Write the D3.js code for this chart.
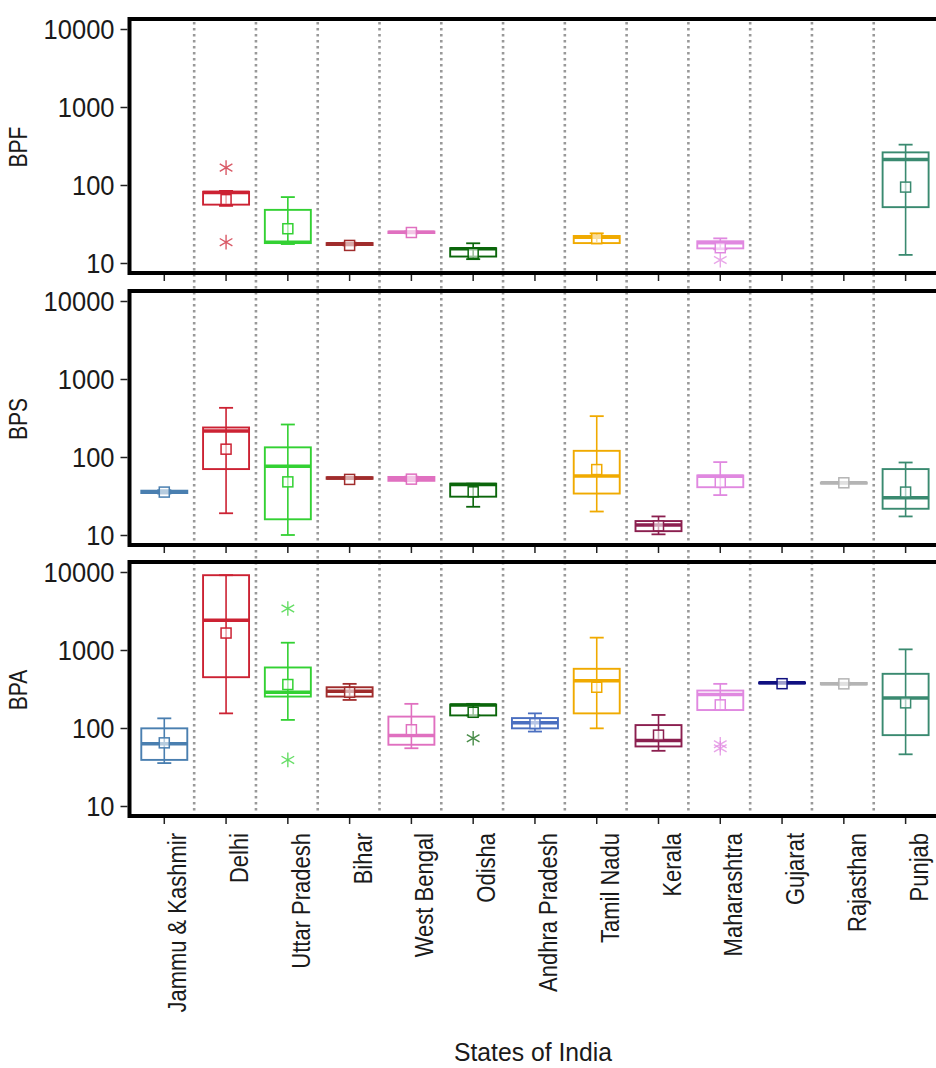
<!DOCTYPE html>
<html><head><meta charset="utf-8">
<script src="https://cdn.jsdelivr.net/npm/d3@7"></script>
<style>
body{margin:0;background:#fff;}
text{font-family:"Liberation Sans",Arial,sans-serif;fill:#1a1a1a;}
</style></head><body>
<svg id="chart" width="936" height="1068"></svg>
<script>
const states = ["Jammu & Kashmir","Delhi","Uttar Pradesh","Bihar","West Bengal","Odisha","Andhra Pradesh","Tamil Nadu","Kerala","Maharashtra","Gujarat","Rajasthan","Punjab"];
const stateColors = ["#4a7fb0","#cc2233","#33d133","#a02c2c","#e070c0","#0b660b","#4a6fc0","#f0aa00","#8b1f4f","#e088e0","#101080","#b4b4b4","#3a8a70"];
const panelNames = ["BPF","BPS","BPA"];
const yTicks = [10,100,1000,10000];

// BPF
const bpfLow  = [null,54,17.5,16.8,24,11.2,null,18,null,15,null,null,12.7];
const bpfQ1   = [null,56,18,17,24.2,12.1,null,18,null,15.4,null,null,52];
const bpfMed  = [null,80,18.5,17.6,24.8,15.2,null,21.4,null,18.2,null,null,213];
const bpfQ3   = [null,82,48,18,25.3,15.5,null,22.2,null,19,null,null,262];
const bpfHigh = [null,84,70,18.2,25.5,17.9,null,24,null,20.7,null,null,329];
const bpfMean = [null,65,27.5,16.8,24.6,13.3,null,20.5,null,15.7,null,null,94];
const bpfOut  = [[],[167,18.5],[],[],[],[],[],[],[],[10.9],[],[],[]];

// BPS
const bpsLow  = [34,19,10,52,49,23,null,20,10.2,32.5,null,46,17.3];
const bpsQ1   = [34.5,70,15.9,52.5,49.5,31,null,34,11.2,41,null,46.3,21.7];
const bpsMed  = [35.8,216,76,53.7,52.6,44.5,null,57,13.4,56.5,null,46.7,30];
const bpsQ3   = [37,239,133,55,55.5,45.5,null,120,15.1,58,null,47,70];
const bpsHigh = [37.5,427,261,55,56,45.5,null,334,17.3,86,null,47.3,85];
const bpsMean = [35.5,126,48,51.6,52,35.8,null,69,13.1,47.3,null,46.7,35.5];
const bpsOut  = [[],[],[],[],[],[],[],[],[],[],[],[],[]];

// BPA
const bpaLow  = [35.5,154,127,229,55,145,90,99,51,170,375,360,46];
const bpaQ1   = [39,448,253,253,61,145,99,154,58,170,376,362,81];
const bpaMed  = [63,2400,287,296,80,197,117,403,69,268,380,368,243];
const bpaQ3   = [99,9100,597,333,140,200,134,574,109,302,384,378,495];
const bpaHigh = [133,9100,1240,368,204,204,154,1440,147,368,385,380,1019];
const bpaMean = [64.5,1650,361,287,95,159,114,333,81,198,370,368,210];
const bpaOut  = [[],[],[3400,39],[],[],[74],[],[],[],[62,55],[],[],[]];

const panels = [
  {name:"BPF", low:bpfLow, q1:bpfQ1, med:bpfMed, q3:bpfQ3, high:bpfHigh, mean:bpfMean, out:bpfOut, top:19},
  {name:"BPS", low:bpsLow, q1:bpsQ1, med:bpsMed, q3:bpsQ3, high:bpsHigh, mean:bpsMean, out:bpsOut, top:291},
  {name:"BPA", low:bpaLow, q1:bpaQ1, med:bpaMed, q3:bpaQ3, high:bpaHigh, mean:bpaMean, out:bpaOut, top:562}
];

const svg = d3.select("#chart");
const panelH = 254;
const frameLeft = 129.5;
const x = d3.scaleBand().domain(states).range([132.4, 935.5]).paddingInner(0).paddingOuter(0);
const bw = x.bandwidth();
const boxW = 46;
const color = d3.scaleOrdinal().domain(states).range(stateColors);

// dotted separators
svg.append("g").selectAll("line").data(states.slice(1)).join("line")
  .attr("x1", d => x(d)).attr("x2", d => x(d))
  .attr("y1", 22).attr("y2", 815)
  .attr("stroke", "#999").attr("stroke-width", 2.6).attr("stroke-dasharray", "2.6,3.4");

panels.forEach((p, pi) => {
  const y = d3.scaleLog().domain([10, 10000]).range([p.top + 244, p.top + 10]);
  const g = svg.append("g");

  states.forEach((s, i) => {
    if (p.low[i] == null) return;
    const cx = x(s) + bw / 2 + 1;
    const c = color(s);
    const sg = g.append("g");
    sg.append("line").attr("x1", cx).attr("x2", cx)
      .attr("y1", y(p.low[i])).attr("y2", y(p.high[i]))
      .attr("stroke", c).attr("stroke-width", 1.6);
    [p.low[i], p.high[i]].forEach(v => {
      sg.append("line").attr("x1", cx - 7).attr("x2", cx + 7)
        .attr("y1", y(v)).attr("y2", y(v)).attr("stroke", c).attr("stroke-width", 1.8);
    });
    sg.append("rect").attr("x", cx - boxW / 2).attr("width", boxW)
      .attr("y", y(p.q3[i])).attr("height", Math.max(1, y(p.q1[i]) - y(p.q3[i])))
      .attr("fill", "none").attr("stroke", c).attr("stroke-width", 1.9);
    sg.append("line").attr("x1", cx - boxW / 2).attr("x2", cx + boxW / 2)
      .attr("y1", y(p.med[i])).attr("y2", y(p.med[i]))
      .attr("stroke", c).attr("stroke-width", 3.5);
    sg.append("rect").attr("x", cx - 5).attr("y", y(p.mean[i]) - 5)
      .attr("width", 10).attr("height", 10)
      .attr("fill", "#fff").attr("fill-opacity", 0.6)
      .attr("stroke", c).attr("stroke-width", 1.5);
    p.out[i].forEach(v => {
      sg.append("path").attr("d", d3.symbol(d3.symbolAsterisk, 150)())
        .attr("transform", `translate(${cx},${y(v)})`)
        .attr("fill", "none").attr("stroke", c).attr("stroke-opacity", 0.75).attr("stroke-width", 1.4);
    });
  });

  svg.append("rect").attr("x", frameLeft).attr("y", p.top)
    .attr("width", 936 - frameLeft + 20).attr("height", panelH)
    .attr("fill", "none").attr("stroke", "#000").attr("stroke-width", 4);

  const ya = svg.append("g").attr("transform", `translate(${frameLeft - 2},0)`)
    .call(d3.axisLeft(y).tickValues(yTicks).tickFormat(d3.format("d")).tickSize(7).tickPadding(6));
  ya.select(".domain").remove();
  ya.selectAll(".tick line").attr("stroke", "#222").attr("stroke-width", 1.5);
  ya.selectAll(".tick text")
    .attr("x", 0).attr("dy", 0)
    .attr("transform", "translate(-13,0) scale(1,1.12) translate(0,8.5)")
    .attr("font-size", 25.5).attr("font-family", "Liberation Sans, Arial, sans-serif").attr("fill", "#1a1a1a");

  svg.append("text").attr("transform", `translate(27,${p.top + 128}) rotate(-90) scale(1,1.2)`)
    .attr("text-anchor", "middle").attr("font-size", 21).text(p.name);

  const xa = svg.append("g").attr("transform", `translate(1,${p.top + panelH + 2})`)
    .call(d3.axisBottom(x).tickSize(6).tickPadding(0));
  xa.select(".domain").remove();
  xa.selectAll(".tick line").attr("stroke", "#222").attr("stroke-width", 1.5);
  if (pi < 2) {
    xa.selectAll(".tick text").remove();
  } else {
    xa.selectAll(".tick text")
      .attr("x", 0).attr("y", 0).attr("dy", 0)
      .attr("transform", "translate(22,15) rotate(-90) scale(1,1.2)")
      .attr("text-anchor", "end")
      .attr("font-size", 22).attr("font-family", "Liberation Sans, Arial, sans-serif").attr("fill", "#1a1a1a");
  }
});

svg.append("text").attr("transform", "translate(533,1061) scale(1,1.15)").attr("text-anchor", "middle")
  .attr("font-size", 23).attr("textLength", 158).attr("lengthAdjust", "spacingAndGlyphs")
  .text("States of India");
</script>
</body></html>
